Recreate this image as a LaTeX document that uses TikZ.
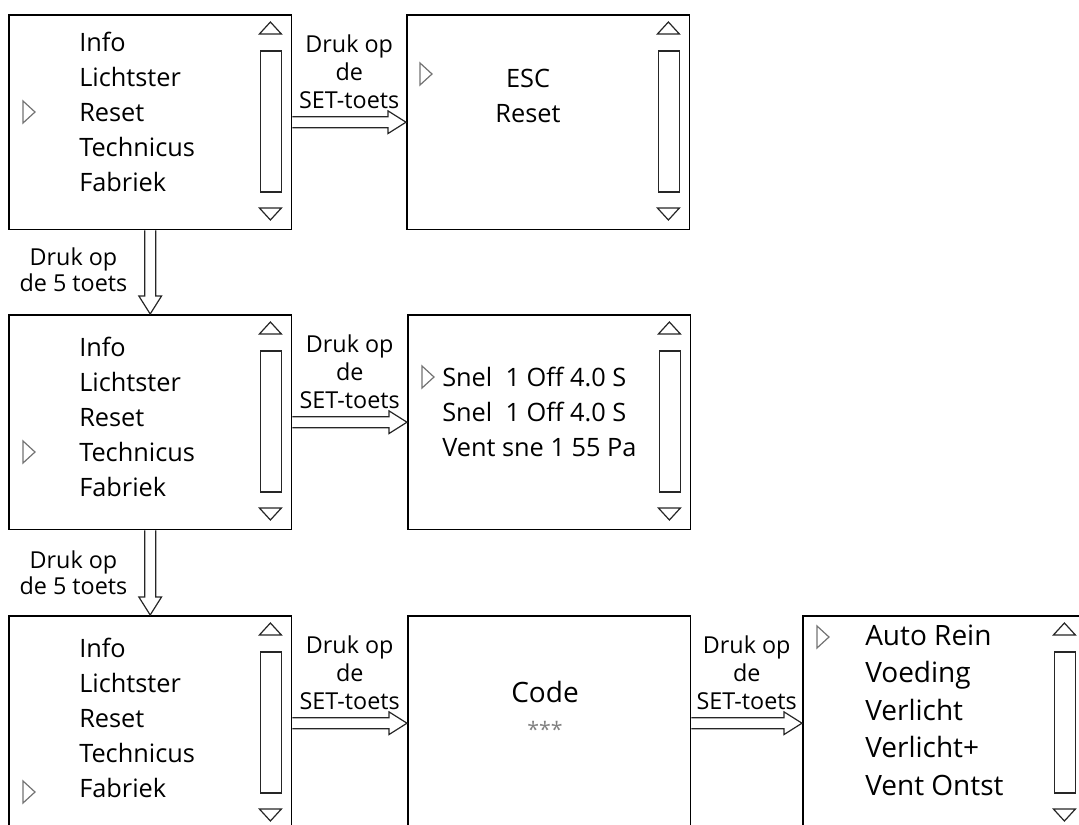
\documentclass[tikz,border=0pt]{standalone}
\usepackage{fontspec}
\setmainfont{Open Sans}
\usetikzlibrary{calc,positioning}

\tikzset{
  screen/.style={draw, line width=1.3pt, anchor=north west, inner sep=0pt,
    minimum width=212pt, minimum height=161pt},
  item/.style={anchor=base west, inner sep=0pt, font=\fontsize{19}{22}\selectfont},
  bigitem/.style={item, font=\fontsize{21}{24}\selectfont},
  lbl/.style={align=center, inner sep=0pt, font=\fontsize{17.5}{21}\selectfont},
  vlbl/.style={lbl, font=\fontsize{17.5}{19}\selectfont},
  scrl/.style={draw=black!85, line width=0.9pt, fill=white},
  harrow/.style={draw=black!85, line width=0.9pt, to path={let \p1=(\tikztostart), \p2=(\tikztotarget) in
    (\x1,\y1+4.1pt) -- (\x2-13.5pt,\y1+4.1pt) -- (\x2-13.5pt,\y1+8.5pt) -- (\x2,\y1)
    -- (\x2-13.5pt,\y1-8.5pt) -- (\x2-13.5pt,\y1-4.1pt) -- (\x1,\y1-4.1pt)}},
  varrow/.style={draw=black!85, line width=0.9pt, to path={let \p1=(\tikztostart), \p2=(\tikztotarget) in
    (\x1-4.1pt,\y1) -- (\x1-4.1pt,\y2+13.5pt) -- (\x1-8.5pt,\y2+13.5pt) -- (\x1,\y2)
    -- (\x1+8.5pt,\y2+13.5pt) -- (\x1+4.1pt,\y2+13.5pt) -- (\x1+4.1pt,\y1)}},
  pointer/.pic={\draw[black!55, line width=0.9pt] (-6,-11) -- (6,0) -- (-6,11) -- cycle;}
}

\newcommand{\menuscroll}[1]{%
  \draw[scrl] ([shift={(-33,20)}]#1.north east) -- ++(11,-12) -- ++(11,12) -- cycle;
  \draw[scrl] ([shift={(-32,37)}]#1.north east) rectangle ([shift={(-11,178)}]#1.north east);
  \draw[scrl] ([shift={(-33,194)}]#1.north east) -- ++(11,12) -- ++(11,-12) -- cycle;
}

\begin{document}
\begin{tikzpicture}[x=0.75pt, y=-0.75pt]
  \useasboundingbox (0,0) rectangle (1079,825);
  \clip (0,0) rectangle (1079,825);

  \node[screen] (A) at (8,14) {};
  \node[screen] (B) at (406,14) {};
  \node[screen] (C) at (8,314) {};
  \node[screen] (D) at (407,314) {};
  \node[screen] (E) at (8,615) {};
  \node[screen] (F) at (407,615) {};
  \node[screen] (G) at (802,615) {};

  \menuscroll{A}
  \menuscroll{B}
  \menuscroll{C}
  \menuscroll{D}
  \menuscroll{E}
  \menuscroll{G}

  \foreach \t [count=\i from 0] in {Info,Lichtster,Reset,Technicus,Fabriek} {
    \node[item] (a\i) at (79,51+35*\i) {\t};
    \node[item] (c\i) at (79,356+35*\i) {\t};
    \node[item] (e\i) at (79,657+35*\i) {\t};
  }
  \pic at (29,112) {pointer};
  \pic at (29,452) {pointer};
  \pic at (29,792) {pointer};

  \node[item, anchor=base] (esc) at (528,87) {ESC};
  \node[item, anchor=base] (rst) at (528,122) {Reset};
  \pic at (426,74) {pointer};

  \foreach \t [count=\i from 0] in {Snel~ 1 Off 4.0 S,Snel~ 1 Off 4.0 S,Vent sne 1 55 Pa}
    \node[item] (d\i) at (442,386+35*\i) {\t};
  \pic at (428,377) {pointer};

  \node[bigitem, anchor=base] (code) at (545,702) {Code};
  \node[anchor=base, inner sep=0pt, text=black!50, font=\fontsize{16}{18}\selectfont] (stars) at (545,737) {***};

  \foreach \t [count=\i from 0] in {Auto Rein,Voeding,Verlicht,Verlicht+,Vent Ontst}
    \node[bigitem] (g\i) at (865,645+37.5*\i) {\t};
  \pic at (823,637) {pointer};

  \path[harrow] (A.east) to (B.west);
  \path[harrow] (C.east) to (D.west);
  \path[harrow] (E.east) to (F.west);
  \path[harrow] (F.east) to (G.west);
  \path[varrow] (A.south) to (C.north);
  \path[varrow] (C.south) to (E.north);

  \node[lbl, above=10pt] (l1) at ($(A.east)!.5!(B.west)$) {Druk op\\de\\SET-toets};
  \node[lbl, above=10pt] (l2) at ($(C.east)!.5!(D.west)$) {Druk op\\de\\SET-toets};
  \node[lbl, above=10pt] (l3) at ($(E.east)!.5!(F.west)$) {Druk op\\de\\SET-toets};
  \node[lbl, above=10pt] (l4) at ($(F.east)!.5!(G.west)$) {Druk op\\de\\SET-toets};
  \node[vlbl, anchor=south east] (l5) at ([xshift=-17pt, yshift=-14.6pt]$(A.south)!.5!(C.north)$) {Druk op\\de 5 toets};
  \node[vlbl, anchor=south east] (l6) at ([xshift=-17pt, yshift=-16.5pt]$(C.south)!.5!(E.north)$) {Druk op\\de 5 toets};
\end{tikzpicture}
\end{document}
